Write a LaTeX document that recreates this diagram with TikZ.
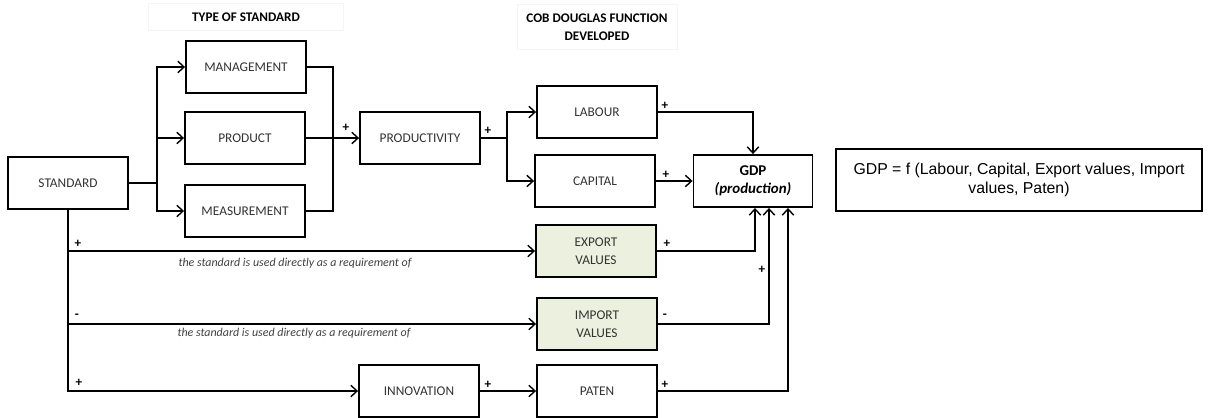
\documentclass[tikz,border=0pt]{standalone}
\usepackage{fontspec}
\setmainfont{Carlito}
\newfontfamily\arialfont{Liberation Sans}
\usetikzlibrary{arrows.meta,calc}
\definecolor{tradegreen}{HTML}{EBF1DE}

\begin{document}
\begin{tikzpicture}[x=0.02cm,y=-0.02cm,
    box/.style={draw,line width=1.1pt,minimum width=2.4cm,minimum height=1.04cm,
      align=center,text=black!80,font=\fontsize{7.6}{10}\selectfont},
    link/.style={draw,line width=0.8pt},
    arr/.style={link,-{Straight Barb[length=3.5pt,width=6.5pt]}},
    sign/.style={font=\fontsize{7.5}{8}\selectfont\bfseries,inner sep=0pt},
    note/.style={font=\fontsize{6.8}{8}\selectfont\itshape,text=black!75,inner sep=0pt},
    head/.style={draw=black!4,align=center,font=\fontsize{7.5}{10}\selectfont\bfseries}]
  \useasboundingbox (0,0) rectangle (1211,417);
  \def \Boxes{
    std/68/183/STANDARD,
    mgmt/246/67/MANAGEMENT,
    prod/245/138/PRODUCT,
    meas/245/211/MEASUREMENT,
    prodv/420/138/PRODUCTIVITY,
    lab/597/112/LABOUR,
    cap/595/181/CAPITAL,
    inno/419/391/INNOVATION,
    pat/597/391/PATEN}
  \def \Signs{
    s1/346/128/+,
    s2/488/131/+,
    s3/665/106/+,
    s4/666/175/+,
    s5/667/244/+,
    s6/665/316/-,
    s7/762/270/+,
    s8/665/385/+,
    s9/488/385/+,
    s10/78/244/+,
    s11/77/316/-,
    s12/79/383/+}
  \foreach \id / \x / \y / \t in \Boxes{
    \node[box] (\id) at (\x, \y) {\t};
  }
  \node[box,fill=tradegreen] (exp) at (596,251) {EXPORT\\VALUES};
  \node[box,fill=tradegreen] (imp) at (597,324) {IMPORT\\VALUES};
  \node[box,minimum width=2.38cm,text=black,font=\fontsize{8.5}{10}\selectfont\bfseries] (gdp) at (753,181) {GDP\\\textit{(production)}};
  \node[box,minimum width=7.32cm,minimum height=1.24cm,text=black,font=\fontsize{9}{11}\selectfont\arialfont] (formula) at (1019,180)
    {GDP = f (Labour, Capital, Export values, Import\\values, Paten)};
  \node[head,minimum width=3.9cm,minimum height=0.54cm] (typehead) at (246,17) {TYPE OF STANDARD};
  \node[head,minimum width=3.2cm,minimum height=0.9cm] (cobhead) at (597,27) {COB DOUGLAS FUNCTION\\DEVELOPED};
  \foreach \id / \x / \y / \t in \Signs{
    \node[sign] (\id) at (\x, \y) {\t};
  }
  \node[note] (n1) at (295,263) {the standard is used directly as a requirement of};
  \node[note] (n2) at (294,333) {the standard is used directly as a requirement of};

  % standard to the three types
  \coordinate (jl) at (157,183);
  \coordinate (jr) at (333,138);
  \coordinate (jp) at (507,138);
  \path[link] (std.east) -- (jl);
  \path[arr] (jl) |- (mgmt);
  \path[arr] (jl) -- (jl |- prod) -- (prod);
  \path[arr] (jl) |- (meas);
  \path[link] (mgmt.east) -| (jr);
  \path[link] (meas.east) -| (jr);
  \path[arr] (prod.east) -- (prodv.west);
  \path[link] (prodv.east) -- (jp);
  \path[arr] (jp) |- (lab);
  \path[arr] (jp) |- (cap);

  % inputs of gdp
  \path[arr] (lab.east) -| (gdp.north);
  \path[arr] (cap.east) -- (gdp.west);
  \path[arr] (exp.east) -| ($(gdp.south)+(2,0)$);
  \path[arr] (imp.east) -| ($(gdp.south)+(16,0)$);
  \path[arr] (pat.east) -| ($(gdp.south)+(35,0)$);

  % direct links of the standard
  \path[arr] (std.south) |- (inno.west);
  \path[arr] (std.south |- exp) -- (exp.west);
  \path[arr] (std.south |- imp) -- (imp.west);
  \path[arr] (inno.east) -- (pat.west);
\end{tikzpicture}
\end{document}
